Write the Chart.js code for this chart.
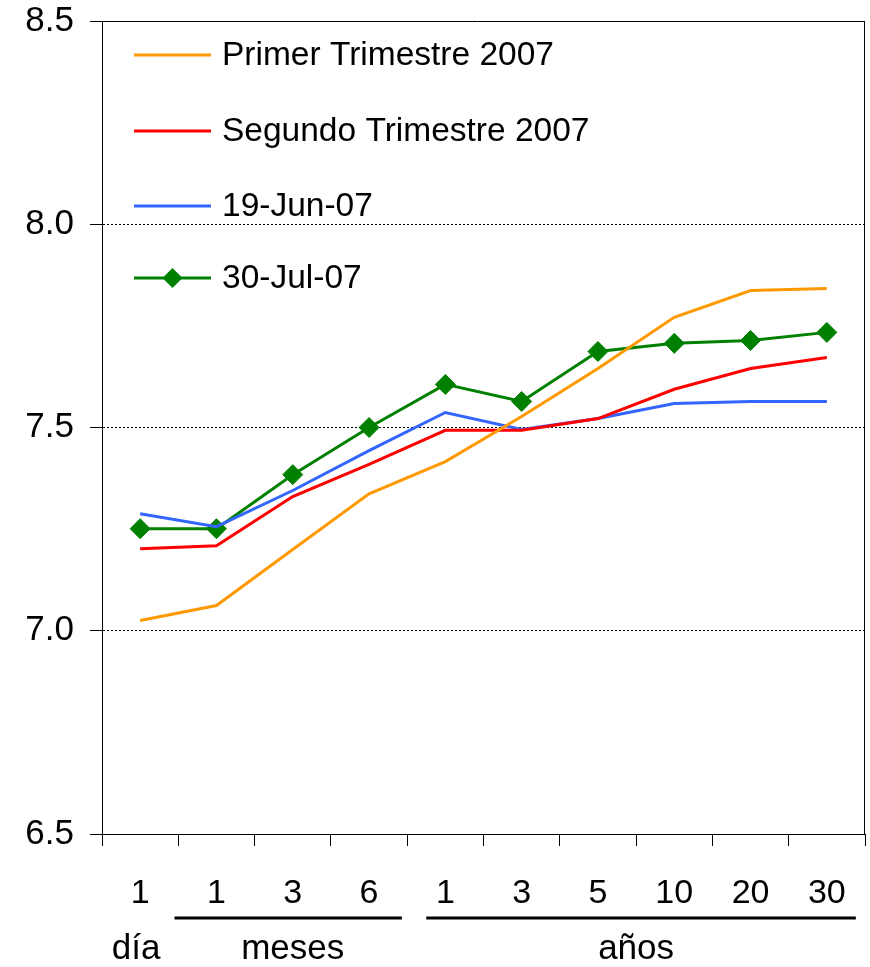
<!DOCTYPE html>
<html>
<head>
<meta charset="utf-8">
<script src="https://cdn.jsdelivr.net/npm/chart.js@4.4.0/dist/chart.umd.min.js"></script>
<style>
html,body{margin:0;padding:0;background:#fff;}
canvas{display:block;}
</style>
</head>
<body>
<canvas id="c" width="870" height="967"></canvas>
<script>
const categories = ["1", "1", "3", "6", "1", "3", "5", "10", "20", "30"];
const groupLabels = ["día", "meses", "años"];
const groupSpans = [[0, 0], [1, 3], [4, 9]];
const yTicks = [6.5, 7.0, 7.5, 8.0, 8.5];

const seriesNames = ["Primer Trimestre 2007", "Segundo Trimestre 2007", "19-Jun-07", "30-Jul-07"];
const primerTrimestre = [7.025, 7.062, 7.200, 7.337, 7.416, 7.527, 7.645, 7.771, 7.837, 7.842];
const segundoTrimestre = [7.202, 7.209, 7.330, 7.409, 7.493, 7.493, 7.522, 7.594, 7.645, 7.672];
const jun19 = [7.288, 7.256, 7.345, 7.443, 7.537, 7.495, 7.522, 7.559, 7.564, 7.564];
const jul30 = [7.251, 7.251, 7.384, 7.500, 7.606, 7.564, 7.687, 7.707, 7.714, 7.734];

const FONT = "'Liberation Sans', Arial, sans-serif";

const legendPlugin = {
  id: 'insideLegend',
  afterDatasetsDraw(chart) {
    const ctx = chart.ctx;
    const area = chart.chartArea;
    const rows = [55, 131, 206, 278];
    ctx.save();
    chart.data.datasets.forEach((ds, i) => {
      const y = rows[i];
      const x1 = area.left + 32, x2 = area.left + 109;
      ctx.strokeStyle = ds.borderColor;
      ctx.lineWidth = 3;
      ctx.beginPath(); ctx.moveTo(x1, y); ctx.lineTo(x2, y); ctx.stroke();
      if (ds.pointRadius > 0) {
        const cx = (x1 + x2) / 2, r = 10;
        ctx.fillStyle = ds.pointBackgroundColor;
        ctx.beginPath();
        ctx.moveTo(cx - r, y); ctx.lineTo(cx, y - r); ctx.lineTo(cx + r, y); ctx.lineTo(cx, y + r);
        ctx.closePath(); ctx.fill();
      }
      ctx.fillStyle = '#000';
      ctx.font = "33.5px " + FONT;
      ctx.textBaseline = 'middle';
      ctx.textAlign = 'left';
      ctx.fillText(ds.label, area.left + 120, y + 1);
    });
    ctx.restore();
  }
};

const framePlugin = {
  id: 'frame',
  afterDraw(chart) {
    const ctx = chart.ctx;
    const a = chart.chartArea;
    const xs = chart.scales.x;
    ctx.save();
    ctx.strokeStyle = '#000';
    ctx.lineWidth = 1;
    ctx.beginPath();
    ctx.moveTo(a.left - 12, a.top + 0.5); ctx.lineTo(a.right, a.top + 0.5);
    ctx.moveTo(a.right - 0.5, a.top); ctx.lineTo(a.right - 0.5, a.bottom);
    ctx.stroke();
    const step = xs.getPixelForValue(1) - xs.getPixelForValue(0);
    const lineExt = [null, [0.55, 0.43], [0.25, 0.38]];
    ctx.fillStyle = '#000';
    ctx.font = "35px " + FONT;
    ctx.textAlign = 'center';
    ctx.textBaseline = 'alphabetic';
    ctx.lineWidth = 3;
    groupSpans.forEach((sp, i) => {
      const l = xs.getPixelForValue(sp[0]);
      const r = xs.getPixelForValue(sp[1]);
      const cx = (l + r) / 2;
      ctx.fillText(groupLabels[i], i === 0 ? l - 4 : cx, 959);
      if (lineExt[i]) {
        ctx.beginPath();
        ctx.moveTo(l - step * lineExt[i][0], 918);
        ctx.lineTo(r + step * lineExt[i][1], 918);
        ctx.stroke();
      }
    });
    ctx.restore();
  }
};

const colors = ['#FF9900', '#FF0000', '#3366FF', '#008000'];
const values = [primerTrimestre, segundoTrimestre, jun19, jul30];

new Chart(document.getElementById('c'), {
  type: 'line',
  data: {
    labels: categories,
    datasets: values.map((v, i) => ({
      label: seriesNames[i],
      data: v,
      borderColor: colors[i],
      backgroundColor: colors[i],
      borderWidth: 3,
      tension: 0,
      pointRadius: i === 3 ? 10 : 0,
      pointHoverRadius: i === 3 ? 10 : 0,
      pointStyle: 'rectRot',
      pointBackgroundColor: colors[i],
      pointBorderColor: colors[i],
      pointBorderWidth: 1
    }))
  },
  options: {
    responsive: false,
    animation: false,
    events: [],
    layout: { autoPadding: false, padding: { top: 21, right: 5, left: 0, bottom: 0 } },
    plugins: { legend: { display: false }, tooltip: { enabled: false } },
    scales: {
      x: {
        type: 'category',
        offset: true,
        afterFit(s) { s.height = 133; s.paddingLeft = 0; s.paddingRight = 0; },
        grid: { display: true, drawOnChartArea: false, drawTicks: true, tickLength: 12, offset: true, color: '#000', tickColor: '#000' },
        border: { display: true, color: '#000', width: 1 },
        ticks: { color: '#000', font: { size: 34, family: FONT }, padding: 27, maxRotation: 0, autoSkip: false }
      },
      y: {
        min: 6.5, max: 8.5,
        afterFit(s) { s.width = 102; s.paddingTop = 0; s.paddingBottom = 0; },
        afterBuildTicks(s) { s.ticks = yTicks.map(v => ({ value: v })); },
        grid: {
          drawTicks: true, tickLength: 12,
          color: ctx => (ctx.tick && (ctx.tick.value === 6.5 || ctx.tick.value === 8.5)) ? 'rgba(0,0,0,0)' : '#000',
          tickColor: '#000', lineWidth: 1
        },
        border: { display: true, color: '#000', width: 1, dash: [2, 2] },
        ticks: { color: '#000', font: { size: 35, family: FONT }, padding: 16, callback: v => Number(v).toFixed(1) }
      }
    }
  },
  plugins: [legendPlugin, framePlugin]
});
</script>
</body>
</html>
